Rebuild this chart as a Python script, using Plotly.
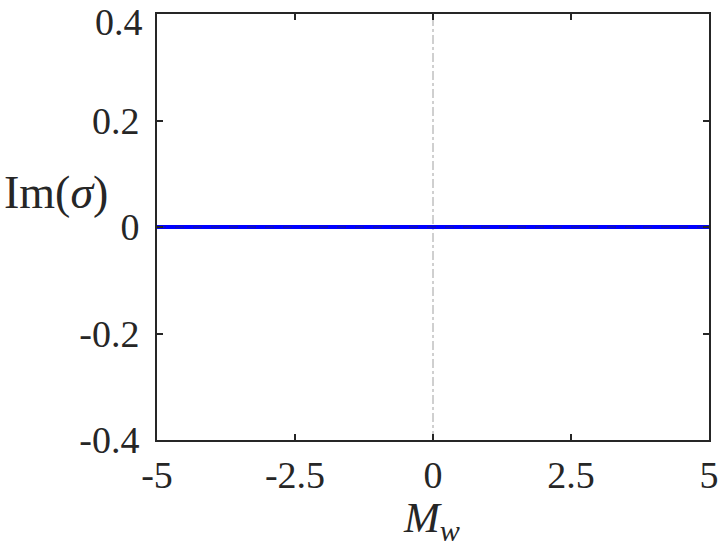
import plotly.graph_objects as go

mw = [-5, -2.5, 0, 2.5, 5]
im_sigma = [0, 0, 0, 0, 0]
vline_x = [0, 0]
vline_y = [-0.4, 0.4]
xticks = [-5, -2.5, 0, 2.5, 5]
xticklabels = ["-5", "-2.5", "0", "2.5", "5"]
yticks = [-0.4, -0.2, 0, 0.2, 0.4]
yticklabels = ["-0.4", "-0.2", "0", "0.2", "0.4"]

font = "Liberation Serif"

fig = go.Figure()
fig.add_trace(go.Scatter(x=vline_x, y=vline_y, mode="lines",
                         line=dict(color="#a0a0a0", width=1, dash="dashdot"),
                         showlegend=False, hoverinfo="skip"))
fig.add_trace(go.Scatter(x=mw, y=im_sigma, mode="lines",
                         line=dict(color="#0000ff", width=4),
                         showlegend=False))
fig.add_trace(go.Scatter(x=mw, y=im_sigma, mode="lines",
                         line=dict(color="#1a1a8c", width=1.2, dash="dash"),
                         showlegend=False))

axis_common = dict(showgrid=False, zeroline=False, showline=True, linecolor="#262626",
                   linewidth=2, mirror="ticks", ticks="inside", ticklen=6,
                   tickcolor="#262626", tickwidth=1.5, automargin=False,
                   ticklabeloverflow="allow",
                   tickfont=dict(family=font, size=38, color="#262626"))

# the topmost y label is drawn as an annotation nudged down (as in the reference)
ytext_axis = yticklabels[:-1] + [""]

fig.update_layout(
    width=723, height=545,
    margin=dict(l=157, r=14, t=14, b=105),
    paper_bgcolor="white", plot_bgcolor="white",
    xaxis=dict(range=[-5.0001, 5.0001], tickvals=xticks, ticktext=xticklabels, **axis_common),
    yaxis=dict(range=[-0.40001, 0.40001], tickvals=yticks, ticktext=ytext_axis,
               ticklabelstandoff=8, **axis_common),
    annotations=[
        dict(text=yticklabels[-1], x=0, xref="paper", xanchor="right", xshift=-12,
             y=yticks[-1], yref="y", yanchor="middle", yshift=-8, showarrow=False,
             font=dict(family=font, size=38, color="#262626")),
        dict(text="<i>M</i><sub><i>w</i></sub>", x=0.497, xref="paper", y=-0.123, yref="paper",
             showarrow=False, xanchor="center", yanchor="top",
             font=dict(family=font, size=43, color="#262626")),
        dict(text="Im(<i>σ</i>)", x=-0.183, xref="paper", y=0.58, yref="paper",
             showarrow=False, xanchor="center", yanchor="middle",
             font=dict(family=font, size=46, color="#262626")),
    ],
)

fig.write_html("out.html", config={"displayModeBar": False},
               post_script="document.body.style.margin='0';")
